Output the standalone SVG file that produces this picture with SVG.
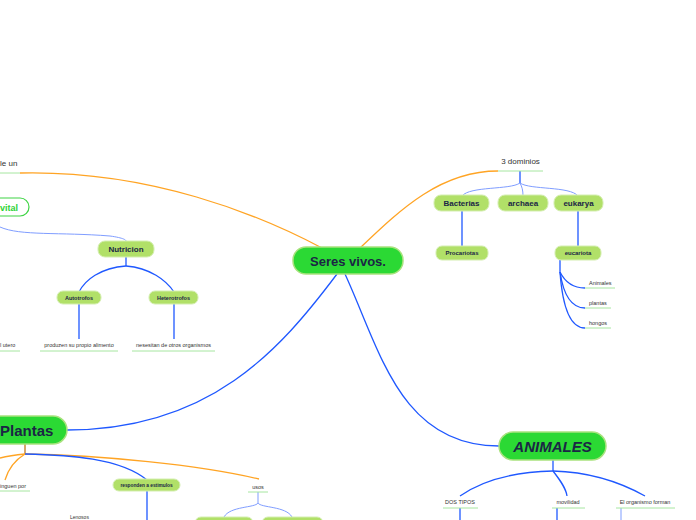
<svg xmlns="http://www.w3.org/2000/svg" width="696" height="520" viewBox="0 0 696 520">
<style>
.main{fill:#2bd934;stroke:#a9e27e;stroke-width:1.5}
.sub{fill:#b1e068;stroke:#d4eeb0;stroke-width:1}
.t{font-family:"Liberation Sans",Arial,sans-serif;fill:#1b2645;font-weight:bold}
.l{font-family:"Liberation Sans",Arial,sans-serif;fill:#333333}
.ul{stroke:#a6e6a0;stroke-width:1;fill:none}
.b{stroke:#1f58ff;stroke-width:1.3;fill:none}
.lb{stroke:#7f9dff;stroke-width:1;fill:none}
.o{stroke:#ffa424;stroke-width:1.3;fill:none}
</style>
<rect width="696" height="520" fill="#ffffff"/>
<g id="connectors">
<path class="o" d="M20,173 C150,170 260,215 322,248"/>
<path class="o" d="M360,248 C400,210 440,171 498,171"/>
<path class="b" d="M337,274 C280,350 210,430 67,430"/>
<path class="b" d="M345,274 C380,350 400,446 499,446"/>
<path class="b" d="M520,171 V183"/>
<path class="lb" d="M520,183 C510,190 470,186 462,196"/>
<path class="lb" d="M520,183 C522,187 523,190 523,196"/>
<path class="lb" d="M520,183 C530,190 570,186 578,196"/>
<path class="b" d="M462,211 V246"/>
<path class="b" d="M578,211 V246"/>
<path class="b" d="M560,260 V272 C565,282 572,288 585,288"/>
<path class="b" d="M560,272 C563,292 570,308 585,308"/>
<path class="b" d="M560,272 C562,300 568,328 585,328"/>
<path class="lb" d="M0,227 C20,236 60,232 110,236 C124,238 126,240 126,241"/>
<path class="b" d="M126,257 V266"/>
<path class="b" d="M126,266 C100,268 85,280 79,292"/>
<path class="b" d="M126,266 C150,268 166,280 174,292"/>
<path class="b" d="M79,304 V339"/>
<path class="b" d="M174,304 V339"/>
<path class="b" d="M553,460 V471"/>
<path class="b" d="M553,471 C510,472 480,482 460,496"/>
<path class="b" d="M553,471 C560,480 566,488 567,496"/>
<path class="b" d="M553,471 C590,472 620,482 645,496"/>
<path class="b" d="M460,508 V520"/>
<path class="b" d="M557,508 V520"/>
<path class="lb" d="M621,508 V520"/>
<path d="M25,444 V454" stroke="#c88a3a" stroke-width="1.5" fill="none"/>
<path class="o" d="M25,454 C15,455 8,456 0,458"/>
<path class="o" d="M25,454 C15,460 8,470 5,480"/>
<path class="o" d="M25,454 C100,455 200,465 259,479"/>
<path class="b" d="M25,454 C70,455 120,458 147,480"/>
<path class="b" d="M147,491 V520"/>
<path class="lb" d="M258,492 V503 C255,508 230,506 224,517"/>
<path class="lb" d="M258,503 C261,508 286,506 292,517"/>
</g>
<g id="n-seres">
<rect class="main" x="293" y="247" width="110" height="27" rx="13"/>
<text class="t" x="348" y="265.5" font-size="13" text-anchor="middle">Seres vivos.</text>
</g>
<g id="n-animales">
<rect class="main" x="499" y="432" width="107" height="28" rx="14"/>
<text class="t" x="552.5" y="451.5" font-size="15" font-style="italic" text-anchor="middle">ANIMALES</text>
</g>
<g id="n-plantas">
<rect class="main" x="-30" y="416" width="97" height="28" rx="14"/>
<text class="t" x="0" y="435.5" font-size="15">Plantas</text>
</g>
<g id="n-vital">
<rect x="-30" y="198" width="59" height="18" rx="9" fill="#ffffff" stroke="#3ed444" stroke-width="1.2"/>
<text x="0" y="210.5" font-size="9" font-weight="bold" fill="#2ed336" font-family="Liberation Sans,Arial,sans-serif">vital</text>
</g>
<g id="n-leun">
<text class="l" x="0" y="166" font-size="8">le un</text>
<line class="ul" x1="0" y1="173" x2="20" y2="173"/>
</g>
<g id="n-3dominios">
<text class="l" x="520.5" y="164" font-size="8" text-anchor="middle">3 dominios</text>
<line class="ul" x1="498" y1="171" x2="543" y2="171"/>
</g>
<g id="n-bacterias">
<rect class="sub" x="434" y="195" width="55" height="16" rx="7"/>
<text class="t" x="461.5" y="206" font-size="8" text-anchor="middle">Bacterias</text>
</g>
<g id="n-archaea">
<rect class="sub" x="498" y="195" width="50" height="16" rx="7"/>
<text class="t" x="523" y="206" font-size="8" text-anchor="middle">archaea</text>
</g>
<g id="n-eukarya">
<rect class="sub" x="554" y="195" width="49" height="16" rx="7"/>
<text class="t" x="578.5" y="206" font-size="8" text-anchor="middle">eukarya</text>
</g>
<g id="n-procariotas">
<rect class="sub" x="436" y="246" width="52" height="14" rx="6"/>
<text class="t" x="462" y="255" font-size="6" text-anchor="middle">Procariotas</text>
</g>
<g id="n-eucariota">
<rect class="sub" x="555" y="246" width="46" height="14" rx="6"/>
<text class="t" x="578" y="255" font-size="6" text-anchor="middle">eucariota</text>
</g>
<g id="n-animales2">
<text class="l" x="589" y="285" font-size="5.5">Animales</text>
<line class="ul" x1="585" y1="288" x2="615" y2="288"/>
</g>
<g id="n-plantas2">
<text class="l" x="589" y="305" font-size="5.5">plantas</text>
<line class="ul" x1="585" y1="308" x2="611" y2="308"/>
</g>
<g id="n-hongos">
<text class="l" x="589" y="325" font-size="5.5">hongos</text>
<line class="ul" x1="585" y1="328" x2="611" y2="328"/>
</g>
<g id="n-nutricion">
<rect class="sub" x="98" y="241" width="56" height="16" rx="7"/>
<text class="t" x="126" y="252" font-size="8" text-anchor="middle">Nutricion</text>
</g>
<g id="n-autotrofos">
<rect class="sub" x="57" y="291" width="44" height="13" rx="6"/>
<text class="t" x="79" y="299.5" font-size="5.5" text-anchor="middle">Autotrofos</text>
</g>
<g id="n-heterotrofos">
<rect class="sub" x="149" y="291" width="49" height="13" rx="6"/>
<text class="t" x="173.5" y="299.5" font-size="5.5" text-anchor="middle">Heterotrofos</text>
</g>
<g id="n-produzen">
<text class="l" x="79" y="347" font-size="5.5" text-anchor="middle">produzen su propio alimento</text>
<line class="ul" x1="40" y1="351" x2="118" y2="351"/>
</g>
<g id="n-nesesitan">
<text class="l" x="173.5" y="347" font-size="5.5" text-anchor="middle">nesesitan de otros organismos</text>
<line class="ul" x1="132" y1="351" x2="215" y2="351"/>
</g>
<g id="n-utero">
<text class="l" x="0" y="347" font-size="5.5">l utero</text>
<line class="ul" x1="0" y1="351" x2="20" y2="351"/>
</g>
<g id="n-dostipos">
<text class="l" x="460" y="504" font-size="5.5" text-anchor="middle">DOS TIPOS</text>
<line class="ul" x1="443" y1="508" x2="478" y2="508"/>
</g>
<g id="n-movilidad">
<text class="l" x="568" y="504" font-size="5.5" text-anchor="middle">movilidad</text>
<line class="ul" x1="552" y1="508" x2="585" y2="508"/>
</g>
<g id="n-organismo">
<text class="l" x="645" y="504" font-size="5.5" text-anchor="middle">El organismo forman</text>
<line class="ul" x1="616" y1="508" x2="675" y2="508"/>
</g>
<g id="n-inguen">
<text class="l" x="0" y="488" font-size="5.5">inguen por</text>
<line class="ul" x1="0" y1="491" x2="30" y2="491"/>
</g>
<g id="n-responden">
<rect class="sub" x="113" y="479" width="67" height="12" rx="6"/>
<text class="t" x="146.5" y="487" font-size="4.8" text-anchor="middle">responden a estimulos</text>
</g>
<g id="n-lenosos">
<text class="l" x="70" y="519" font-size="5">Lenosos</text>
</g>
<g id="n-usos">
<text class="l" x="258" y="488.5" font-size="5.5" text-anchor="middle">usos</text>
<line class="ul" x1="248" y1="492" x2="268" y2="492"/>
</g>
<g id="n-uso1">
<rect class="sub" x="195" y="517" width="58" height="14" rx="6"/>
</g>
<g id="n-uso2">
<rect class="sub" x="262" y="517" width="61" height="14" rx="6"/>
</g>
</svg>
